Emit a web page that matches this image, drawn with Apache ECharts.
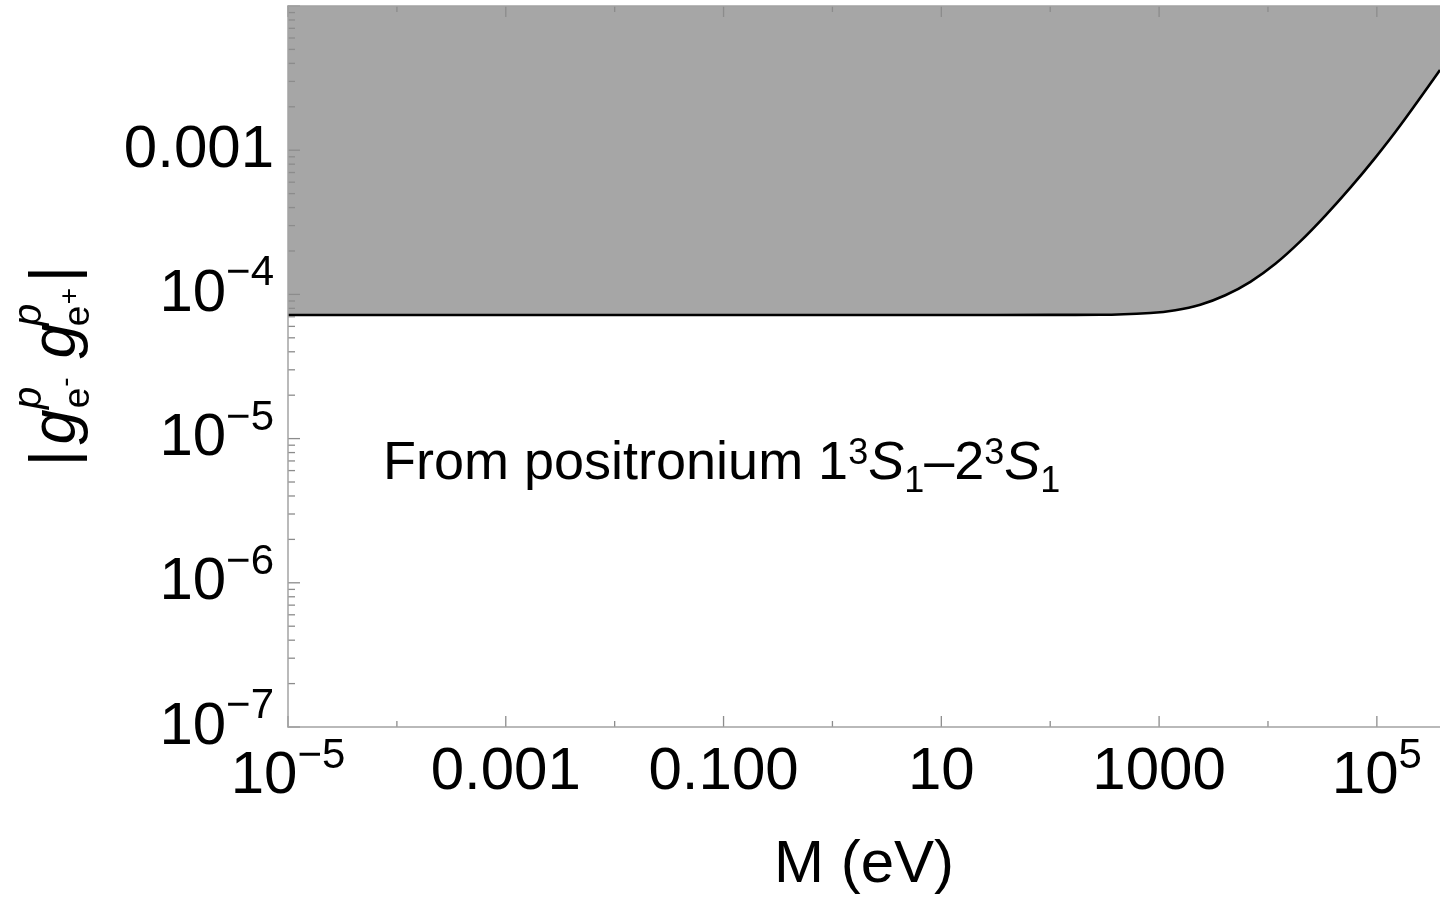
<!DOCTYPE html>
<html><head><meta charset="utf-8">
<script src="https://cdn.jsdelivr.net/npm/echarts@6/dist/echarts.min.js"></script>
<style>html,body{margin:0;padding:0;background:#fff}#c{width:1440px;height:905px}</style>
</head><body><div id="c"></div>
<script>
// ---- data ----
const massEV   = [1e-5, 1e-3, 0.1, 10, 100, 288, 830, 1409, 2390, 4060, 6890, 11690, 19800, 33650, 57100, 96900, 164400, 380000];
const coupling = [7.2e-5, 7.2e-5, 7.2e-5, 7.2e-5, 7.21e-5, 7.22e-5, 7.43e-5, 7.76e-5, 8.48e-5, 9.86e-5, 1.222e-4, 1.63e-4, 2.33e-4, 3.52e-4, 5.5e-4, 8.89e-4, 1.49e-3, 3.6e-3];

const xMin = 1e-5, xMax = 3.8e5, yMin = 1e-7, yMax = 1e-2;
const xLabeledTicks   = [1e-5, 1e-3, 1e-1, 10, 1e3, 1e5];
const xLabelTexts     = ['{b|10}{s|\u22125}', '0.001', '0.100', '10', '1000', '{b|10}{s|5}'];
const xUnlabeledTicks = [1e-4, 1e-2, 1, 100, 1e4];
const yMajorTicks = [1e-7, 1e-6, 1e-5, 1e-4, 1e-3, 1e-2];
const yLabelTexts = ['{b|10}{s|\u22127}', '{b|10}{s|\u22126}', '{b|10}{s|\u22125}', '{b|10}{s|\u22124}', '0.001', ''];
const yMinorMultipliers = [2, 3, 4, 5, 6, 7, 8, 9];
const xAxisTitle = 'M (eV)';
const annotation = '{t|From positronium 1}{sup|3}{it|S}{sub|1}{t|\u20132}{sup|3}{it|S}{sub|1}';

// ---- styling ----
const FF = "'Liberation Sans', Arial, sans-serif";
const AXIS_GRAY = '#a3a3a3';
const TICK_GRAY = '#8c8c8c';

function matchLabel(v, ticks, texts) {
  const lv = Math.log10(v);
  for (let i = 0; i < ticks.length; i++) {
    if (Math.abs(lv - Math.log10(ticks[i])) < 1e-6) return texts[i];
  }
  return '';
}

// tick data for custom series
const xTickData = [];
xLabeledTicks.forEach(v => { xTickData.push([v, yMin, 11, -1]); xTickData.push([v, yMax, 11, 1]); });
xUnlabeledTicks.forEach(v => { xTickData.push([v, yMin, 6, -1]); xTickData.push([v, yMax, 6, 1]); });
const yTickData = [];
yMajorTicks.forEach(v => { yTickData.push([xMin, v, 12]); });
yMajorTicks.slice(0, -1).forEach(v => yMinorMultipliers.forEach(m => yTickData.push([xMin, v * m, 7])));

// y-axis title pieces (rotated), |g^p_{e-} g^p_{e+}|
const yTitlePieces = [
  {t: '|', x: 57,   y: 458, size: 63, it: false},
  {t: 'g', x: 57,   y: 427, size: 63, it: true},
  {t: 'p', x: 30,   y: 398, size: 40, it: true},
  {t: 'e', x: 79,   y: 398, size: 37, it: false},
  {t: '-', x: 66.6, y: 382, size: 28, it: false},
  {t: 'g', x: 57,   y: 341, size: 63, it: true},
  {t: 'p', x: 30,   y: 315, size: 40, it: true},
  {t: 'e', x: 79,   y: 316, size: 37, it: false},
  {t: '+', x: 70,   y: 296, size: 28, it: false},
  {t: '|', x: 57,   y: 274, size: 63, it: false}
];

const graphics = yTitlePieces.map(p => ({
  type: 'text', x: p.x, y: p.y, rotation: Math.PI / 2, z: 20,
  style: {
    text: p.t, fill: '#000',
    font: (p.it ? 'italic ' : '') + p.size + 'px ' + FF,
    align: 'center', verticalAlign: 'middle',
    textAlign: 'center', textVerticalAlign: 'middle'
  }
}));
graphics.push({
  type: 'text', x: 383, y: 464, z: 20,
  style: {
    text: annotation, fill: '#000',
    font: '54px ' + FF,
    align: 'left', verticalAlign: 'middle',
    textAlign: 'left', textVerticalAlign: 'middle',
    rich: {
      t:   {fontSize: 54, lineHeight: 54, fontFamily: FF, fill: '#000'},
      it:  {fontSize: 54, lineHeight: 54, fontFamily: FF, fontStyle: 'italic', fill: '#000'},
      sup: {fontSize: 36, lineHeight: 36, height: 34, fontFamily: FF, verticalAlign: 'top', fill: '#000'},
      sub: {fontSize: 36, lineHeight: 36, height: 18, fontFamily: FF, verticalAlign: 'bottom', fill: '#000'}
    }
  }
});

const chart = echarts.init(document.getElementById('c'), null, {renderer: 'canvas'});
chart.setOption({
  animation: false,
  backgroundColor: '#fff',
  grid: {left: 288, right: 0, top: 6, bottom: 178, containLabel: false, outerBoundsMode: 'none'},
  xAxis: [{
    type: 'log', logBase: 10, min: xMin, max: xMax, interval: 1, splitNumber: 10, z: 10,
    axisLine: {show: true, lineStyle: {color: AXIS_GRAY, width: 1.5}},
    axisTick: {show: false}, splitLine: {show: false}, minorTick: {show: false},
    axisLabel: {
      show: true, margin: 15, color: '#000', fontSize: 60, lineHeight: 60, fontFamily: FF,
      showMinLabel: true, showMaxLabel: true, hideOverlap: false,
      formatter: v => matchLabel(v, xLabeledTicks, xLabelTexts),
      rich: {
        b: {fontSize: 60, lineHeight: 68, fontFamily: FF, color: '#000'},
        s: {fontSize: 42, lineHeight: 42, height: 28, fontFamily: FF, color: '#000', verticalAlign: 'top'}
      }
    },
    name: xAxisTitle, nameLocation: 'middle', nameGap: 108,
    nameTextStyle: {fontSize: 60, lineHeight: 60, fontFamily: FF, color: '#000'}
  }, {
    type: 'log', logBase: 10, min: xMin, max: xMax, position: 'top', z: 10,
    axisLine: {show: true, lineStyle: {color: AXIS_GRAY, width: 1.5}},
    axisTick: {show: false}, axisLabel: {show: false}, splitLine: {show: false}
  }],
  yAxis: [{
    type: 'log', logBase: 10, min: yMin, max: yMax, interval: 1, z: 10,
    axisLine: {show: true, lineStyle: {color: AXIS_GRAY, width: 1.5}},
    axisTick: {show: false}, splitLine: {show: false}, minorTick: {show: false},
    axisLabel: {
      show: true, margin: 14, color: '#000', fontSize: 60, lineHeight: 60, fontFamily: FF,
      showMinLabel: true, showMaxLabel: true, hideOverlap: false,
      formatter: v => matchLabel(v, yMajorTicks, yLabelTexts),
      rich: {
        b: {fontSize: 60, lineHeight: 60, fontFamily: FF, color: '#000'},
        s: {fontSize: 42, lineHeight: 42, height: 19, fontFamily: FF, color: '#000', verticalAlign: 'top'}
      }
    }
  }],
  series: [{
    type: 'line', xAxisIndex: 0, yAxisIndex: 0,
    data: massEV.map((m, i) => [m, coupling[i]]),
    symbol: 'none', showSymbol: false, smooth: 0.35, z: 3,
    lineStyle: {color: '#000', width: 2.6},
    areaStyle: {origin: 'end', color: '#a6a6a6', opacity: 1}
  }, {
    type: 'custom', xAxisIndex: 0, yAxisIndex: 0, z: 6, clip: false, silent: true,
    data: xTickData,
    encode: {x: 0, y: 1},
    renderItem: (params, api) => {
      const p = api.coord([api.value(0), api.value(1)]);
      const len = api.value(2), dir = api.value(3);
      return {type: 'line', shape: {x1: p[0], y1: p[1], x2: p[0], y2: p[1] + dir * len},
              style: {stroke: TICK_GRAY, lineWidth: 1.3}};
    }
  }, {
    type: 'custom', xAxisIndex: 0, yAxisIndex: 0, z: 6, clip: false, silent: true,
    data: yTickData,
    encode: {x: 0, y: 1},
    renderItem: (params, api) => {
      const p = api.coord([api.value(0), api.value(1)]);
      const len = api.value(2);
      return {type: 'line', shape: {x1: p[0], y1: p[1], x2: p[0] + len, y2: p[1]},
              style: {stroke: TICK_GRAY, lineWidth: 1.3}};
    }
  }],
  graphic: graphics
});
</script>
</body></html>
